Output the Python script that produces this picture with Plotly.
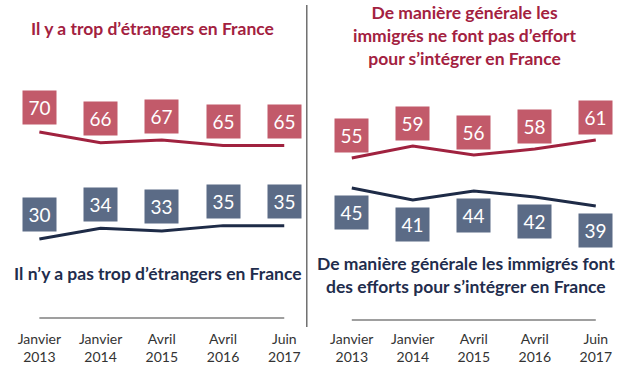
import plotly.graph_objects as go

W, H = 635, 370

periods = ["Janvier<br>2013", "Janvier<br>2014", "Avril<br>2015", "Avril<br>2016", "Juin<br>2017"]
xs = [0, 1, 2, 3, 4]

left_trop = [70, 66, 67, 65, 65]
left_pas_trop = [30, 34, 33, 35, 35]
right_pas_effort = [55, 59, 56, 58, 61]
right_effort = [45, 41, 44, 42, 39]

title_left_top = "Il y a trop d’étrangers en France"
title_left_bottom = "Il n’y a pas trop d’étrangers en France"
title_right_top = "De manière générale les<br>immigrés ne font pas d’effort<br>pour s’intégrer en France"
title_right_bottom = "De manière générale les immigrés font<br>des efforts pour s’intégrer en France"

RED_LINE = "#A0223F"
RED_BOX = "#C25A6A"
NAVY_LINE = "#1E2B47"
NAVY_BOX = "#5B6B86"
TITLE_RED = "#A3213F"
TITLE_NAVY = "#1F2D4D"
FONT = "Lato"

def px_x(p):
    return p / W

def px_y(p):
    return 1 - p / H

fig = go.Figure()

series = [
    (left_trop, "x", "y", RED_LINE, RED_BOX, 24),
    (left_pas_trop, "x", "y", NAVY_LINE, NAVY_BOX, 24),
    (right_pas_effort, "x2", "y2", RED_LINE, RED_BOX, 23),
    (right_effort, "x2", "y2", NAVY_LINE, NAVY_BOX, -24),
]

annotations = []
for vals, xa, ya, lc, bc, shift in series:
    fig.add_trace(go.Scatter(x=xs, y=vals, xaxis=xa, yaxis=ya, mode="lines",
                             line=dict(color=lc, width=3), hoverinfo="skip",
                             showlegend=False))
    for xv, v in zip(xs, vals):
        annotations.append(dict(x=xv, y=v, xref=xa, yref=ya, text=str(v),
                                showarrow=False, yshift=shift, bgcolor=bc,
                                width=33, height=33, borderpad=0,
                                xanchor="center", yanchor="middle",
                                font=dict(family=FONT, size=19, color="white")))

# left axis: 62.5 px per category, points at 31..281
fig.update_layout(
    xaxis=dict(domain=[px_x(18.5), px_x(293.5)], range=[-0.2, 4.2],
               tickvals=xs, ticktext=periods, anchor="free", position=px_y(329),
               showline=False, showgrid=False, zeroline=False, ticks="",
               tickfont=dict(family=FONT, size=14, color="#333333")),
    yaxis=dict(domain=[px_y(265.75), px_y(105.25)], range=[20, 80], visible=False),
    xaxis2=dict(domain=[px_x(337.5), px_x(611.5)], range=[-0.2, 4.2],
                tickvals=xs, ticktext=periods, anchor="free", position=px_y(329),
                showline=False, showgrid=False, zeroline=False, ticks="",
                tickfont=dict(family=FONT, size=14, color="#333333")),
    yaxis2=dict(domain=[px_y(233), px_y(113)], range=[30, 70], visible=False,
                anchor="x2"),
)

def title(x, y, text, color):
    return dict(x=px_x(x), y=px_y(y), xref="paper", yref="paper", text=f"<b>{text}</b>",
                showarrow=False, xanchor="center", yanchor="middle",
                font=dict(family=FONT, size=17.5, color=color))

annotations += [
    title(146, 28, title_left_top, TITLE_RED),
    title(152, 273, title_left_bottom, TITLE_NAVY),
    title(466, 35, title_right_top, TITLE_RED),
    title(467, 275, title_right_bottom, TITLE_NAVY),
]

shapes = [
    dict(type="line", xref="x", yref="paper", x0=0, x1=4, y0=px_y(318), y1=px_y(318),
         line=dict(color="#7F7F7F", width=1.5)),
    dict(type="line", xref="x2", yref="paper", x0=0, x1=4, y0=px_y(320), y1=px_y(320),
         line=dict(color="#7F7F7F", width=1.5)),
    dict(type="line", xref="paper", yref="paper", x0=px_x(304), x1=px_x(304),
         y0=px_y(5), y1=px_y(327), line=dict(color="#6F6F6F", width=1.5)),
]

fig.update_layout(width=W, height=H, margin=dict(l=0, r=0, t=0, b=0),
                  paper_bgcolor="white", plot_bgcolor="white",
                  annotations=annotations, shapes=shapes)

fig.write_html("out.html", config={"displayModeBar": False},
               post_script="document.body.style.margin='0';document.body.style.overflow='hidden';")
